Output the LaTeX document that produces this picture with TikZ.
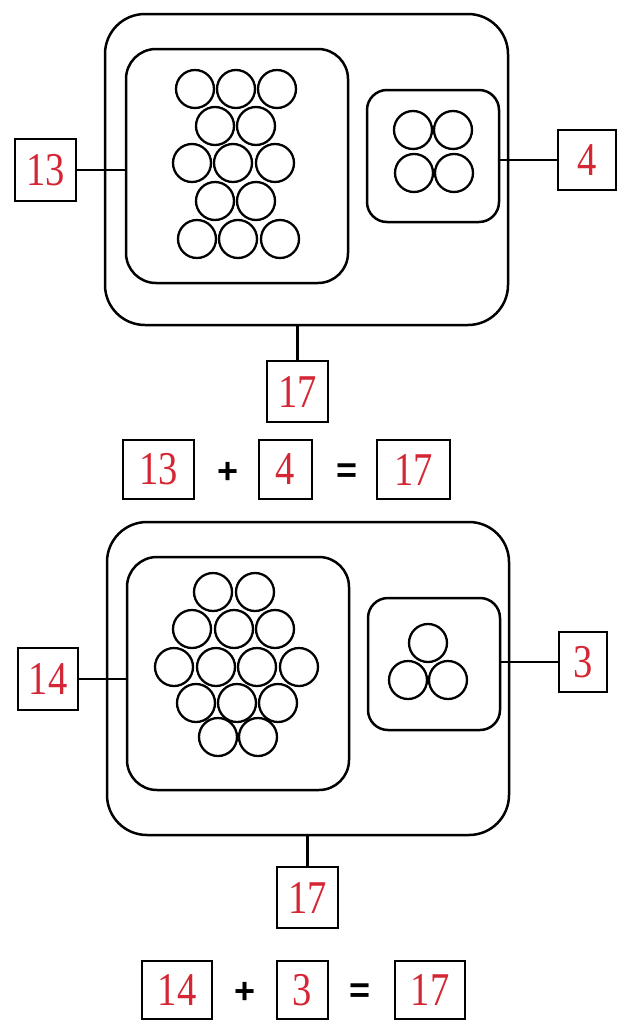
\documentclass[tikz,border=0pt]{standalone}
\usepackage{fontspec}
\usepackage{graphicx}
\setmainfont{Liberation Serif}
\newfontfamily\opfont{Liberation Sans}
\definecolor{numRed}{RGB}{212,38,52}
\newcommand\narrowNum[1]{\scalebox{0.82}[1]{#1}}

\begin{document}
\begin{tikzpicture}
[x=1pt,y=-1pt,%
  numBox/.style={draw,line width=2.3pt,inner sep=0pt,text=numRed,font=\fontsize{47}{47}\selectfont},%
  bigBox/.style={draw,line width=2.5pt,rounded corners=#1,inner sep=0pt},%
  ball/.style={shape=circle,draw,line width=2.3pt,minimum size=38pt,inner sep=0pt},%
  opSign/.style={font=\opfont\bfseries\fontsize{36}{36}\selectfont},%
  wire/.style={line width=2.3pt}]
\useasboundingbox (0,0) rectangle (618,1020);

%% first group: 13 + 4
\node (outer1) at (306.5,169.5) [bigBox=40pt,minimum width=403pt,minimum height=311pt] {};
\node (big1) at (237,166) [bigBox=30pt,minimum width=222pt,minimum height=234pt] {};
\node (small1) at (433,156) [bigBox=20pt,minimum width=132pt,minimum height=132pt] {};
\foreach \name/\x/\y in {a1/195/89, a2/236/89, a3/277/89, a4/215/126, a5/256/126,
  a6/192/163, a7/233/163, a8/275/163, a9/215/201, a10/256/201,
  a11/197/239, a12/238/239, a13/280/239,
  b1/413/130, b2/453/130, b3/414/173, b4/454/173}
{
  \node (\name) at (\x,\y) [ball] {};
}
\node (n13) at (45.5,170) [numBox,minimum width=61pt,minimum height=62pt] {\narrowNum{13}};
\node (n4) at (587,160) [numBox,minimum width=58pt,minimum height=60pt] {\narrowNum{4}};
\node (n17a) at (297.5,391.5) [numBox,minimum width=61pt,minimum height=61pt] {\narrowNum{17}};
\draw[wire] (n13.east) -- (n13.east -| big1.west);
\draw[wire] (n4.west) -- (n4.west -| small1.east);
\draw[wire] (n17a.north) -- (n17a.north |- outer1.south);

%% first sum
\node (s13) at (158.5,469.5) [numBox,minimum width=71pt,minimum height=59pt] {\narrowNum{13}};
\node (plus1) at (228,473) [opSign] {+};
\node (s4) at (285.5,469.5) [numBox,minimum width=53pt,minimum height=59pt] {\narrowNum{4}};
\node (eq1) at (347,473) [opSign] {=};
\node (s17a) at (413.5,469.5) [numBox,minimum width=73pt,minimum height=59pt] {\narrowNum{17}};

%% second group: 14 + 3
\node (outer2) at (308,678.5) [bigBox=40pt,minimum width=402pt,minimum height=313pt] {};
\node (big2) at (238,673.5) [bigBox=30pt,minimum width=222pt,minimum height=233pt] {};
\node (small2) at (434,664) [bigBox=20pt,minimum width=132pt,minimum height=132pt] {};
\foreach \name/\x/\y in {c1/213/592, c2/255/592,
  c3/192/629, c4/234/629, c5/275/629,
  c6/174/667, c7/216/667, c8/257/667, c9/299/667,
  c10/196/703, c11/237/703, c12/278/703,
  c13/218/737, c14/258/737,
  d1/428/643, d2/408/680, d3/448/680}
{
  \node (\name) at (\x,\y) [ball] {};
}
\node (n14) at (48,679) [numBox,minimum width=60pt,minimum height=62pt] {\narrowNum{14}};
\node (n3) at (583,662) [numBox,minimum width=48pt,minimum height=60pt] {\narrowNum{3}};
\node (n17b) at (307.5,897.5) [numBox,minimum width=61pt,minimum height=61pt] {\narrowNum{17}};
\draw[wire] (n14.east) -- (n14.east -| big2.west);
\draw[wire] (n3.west) -- (n3.west -| small2.east);
\draw[wire] (n17b.north) -- (n17b.north |- outer2.south);

%% second sum
\node (s14) at (177,990) [numBox,minimum width=70pt,minimum height=58pt] {\narrowNum{14}};
\node (plus2) at (245,993) [opSign] {+};
\node (s3) at (302.5,990) [numBox,minimum width=51pt,minimum height=58pt] {\narrowNum{3}};
\node (eq2) at (360,993) [opSign] {=};
\node (s17b) at (430,990) [numBox,minimum width=70pt,minimum height=58pt] {\narrowNum{17}};
\end{tikzpicture}
\end{document}
